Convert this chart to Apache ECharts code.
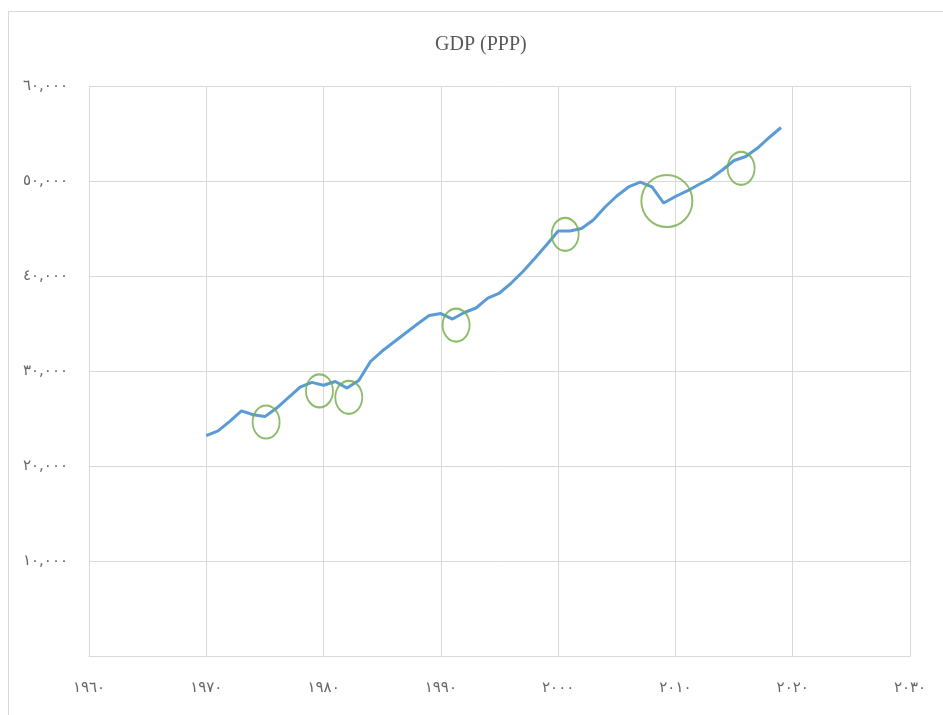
<!DOCTYPE html>
<html>
<head>
<meta charset="utf-8">
<title>GDP (PPP)</title>
<script src="https://cdn.jsdelivr.net/npm/echarts@6/dist/echarts.min.js"></script>
<style>
  html, body { margin: 0; padding: 0; background: #fff; overflow: hidden; }
  #frame {
    position: absolute; left: 8px; top: 11px;
    width: 1000px; height: 800px;
    border: 1px solid #d9d9d9;
  }
  #main { position: absolute; left: 0; top: 0; width: 943px; height: 715px; }
</style>
</head>
<body>
<div id="frame"></div>
<div id="main"></div>
<script>
// 年份和 GDP（PPP）数值
const years = [
  1970, 1971, 1972, 1973, 1974, 1975, 1976, 1977, 1978, 1979,
  1980, 1981, 1982, 1983, 1984, 1985, 1986, 1987, 1988, 1989,
  1990, 1991, 1992, 1993, 1994, 1995, 1996, 1997, 1998, 1999,
  2000, 2001, 2002, 2003, 2004, 2005, 2006, 2007, 2008, 2009,
  2010, 2011, 2012, 2013, 2014, 2015, 2016, 2017, 2018, 2019
]
const gdp = [
  23200, 23700, 24700, 25800, 25400, 25200, 26100, 27200, 28300, 28800,
  28500, 28900, 28200, 29000, 31000, 32100, 33050, 34000, 34950, 35840,
  36050, 35470, 36160, 36630, 37680, 38210, 39260, 40470, 41840, 43260,
  44740, 44740, 45000, 45900, 47260, 48420, 49370, 49890, 49370, 47680,
  48370, 48950, 49630, 50260, 51160, 52160, 52580, 53470, 54580, 55630
]

// 衰退标记（绿色圈）的中心
const markYears = [1975.1, 1979.65, 1982.15, 1991.3, 2000.6, 2009.27, 2015.6]
const markValues = [24630, 27900, 27230, 34840, 44390, 47890, 51340]

// 刻度
const xTicks = [1960, 1970, 1980, 1990, 2000, 2010, 2020, 2030]
const xTickLabels = ['١٩٦٠', '١٩٧٠', '١٩٨٠', '١٩٩٠', '٢٠٠٠', '٢٠١٠', '٢٠٢٠', '٢٠٣٠']
const yTicks = [0, 10000, 20000, 30000, 40000, 50000, 60000]
const yTickLabels = ['', '١٠,٠٠٠', '٢٠,٠٠٠', '٣٠,٠٠٠', '٤٠,٠٠٠', '٥٠,٠٠٠', '٦٠,٠٠٠']

let myChart = echarts.init(document.getElementById('main'))

let labelStyle = {
  color: '#666666',
  fontFamily: 'DejaVu Sans',
  fontSize: 15
}

myChart.setOption({
  animation: false,
  title: {
    text: 'GDP (PPP)',
    left: 430,
    top: 30,
    textStyle: {
      fontFamily: 'Liberation Serif',
      fontWeight: 'normal',
      fontSize: 20,
      color: '#595959'
    }
  },
  grid: { left: 89, right: 33, top: 86, bottom: 59 },
  xAxis: {
    type: 'value',
    min: 1960,
    max: 2030,
    interval: 10,
    axisLine: { show: true, lineStyle: { color: '#d9d9d9' } },
    axisTick: { show: false },
    splitLine: { show: true, lineStyle: { color: '#d9d9d9' } },
    axisLabel: Object.assign({
      margin: 25,
      formatter: v => xTickLabels[xTicks.indexOf(v)] || ''
    }, labelStyle)
  },
  yAxis: {
    type: 'value',
    min: 0,
    max: 60000,
    interval: 10000,
    axisLine: { show: false },
    axisTick: { show: false },
    splitLine: { show: true, lineStyle: { color: '#d9d9d9' } },
    axisLabel: Object.assign({
      margin: 21,
      formatter: v => yTickLabels[yTicks.indexOf(v)] || ''
    }, labelStyle)
  },
  series: [
    {
      name: 'GDP (PPP)',
      type: 'line',
      data: years.map((y, i) => [y, gdp[i]]),
      showSymbol: false,
      lineStyle: { color: '#5B9BD5', width: 3 },
      z: 2
    },
    {
      name: 'marks',
      type: 'scatter',
      data: markYears.map((y, i) => [y, markValues[i]]),
      symbol: 'circle',
      symbolSize: (val, params) => params.dataIndex === 5 ? [51, 52] : [27, 33],
      itemStyle: { color: 'rgba(0,0,0,0)', borderColor: '#70AD47', borderWidth: 2 },
      z: 3
    }
  ]
})
</script>
</body>
</html>
